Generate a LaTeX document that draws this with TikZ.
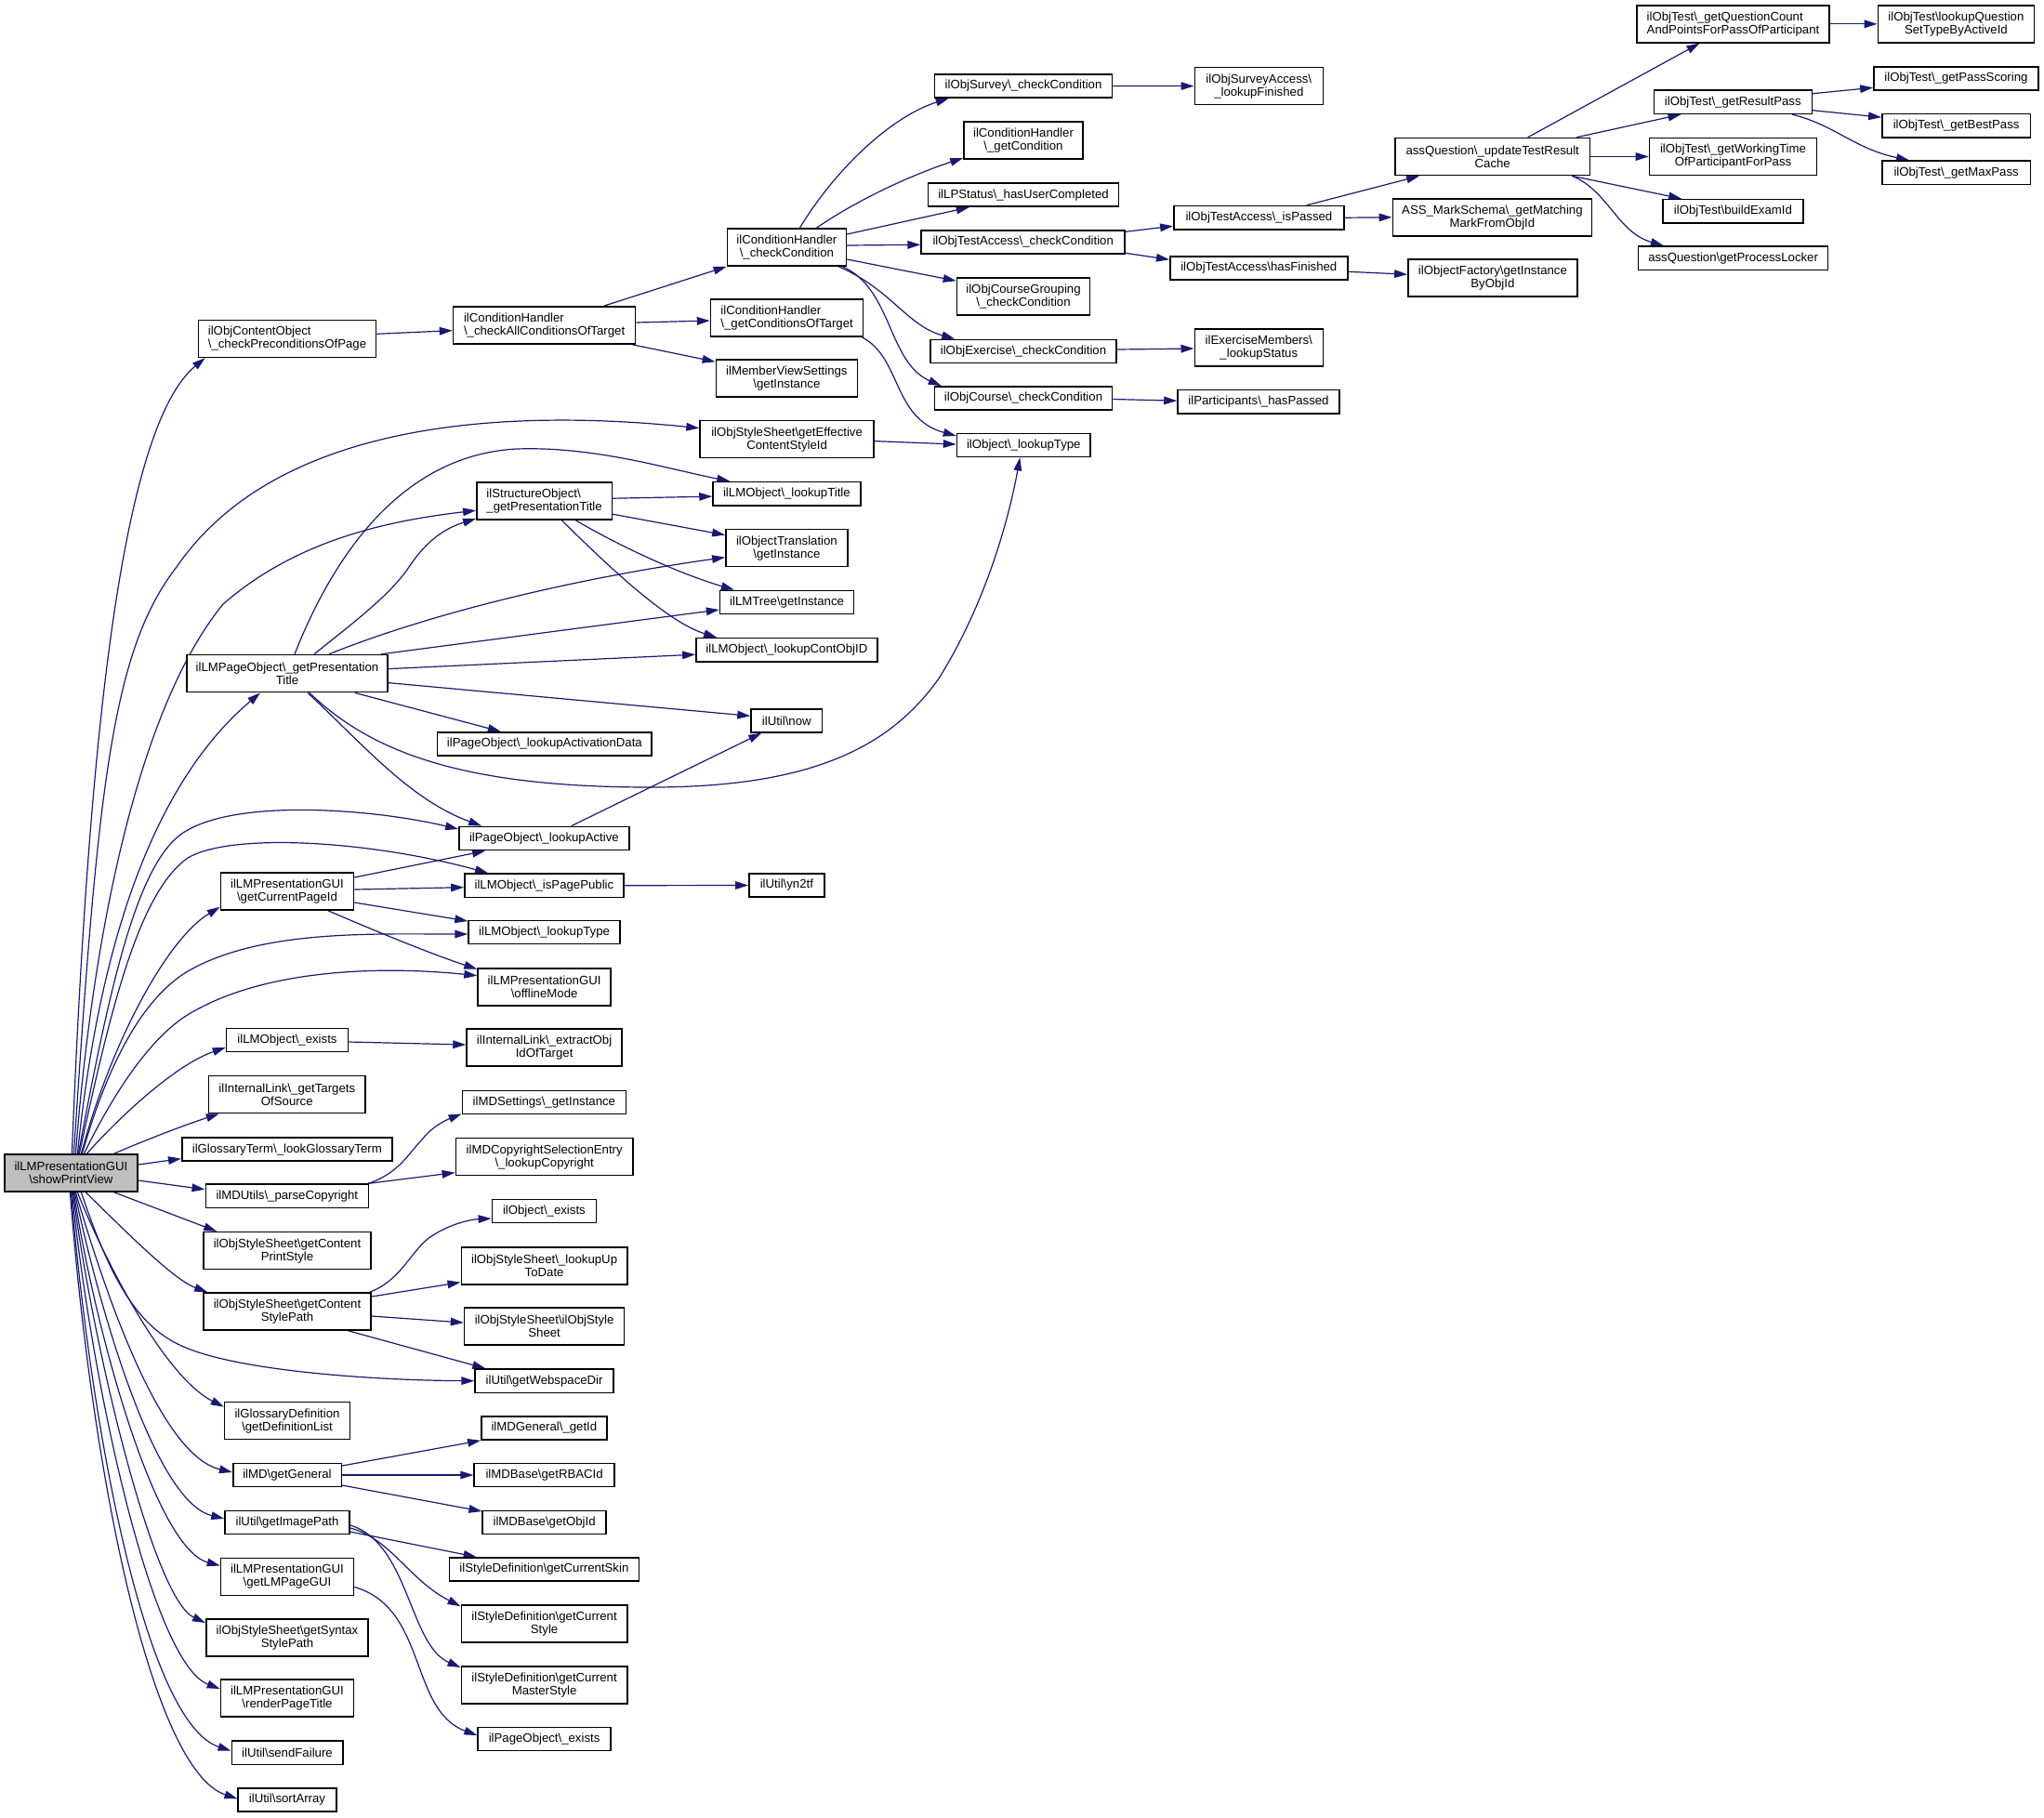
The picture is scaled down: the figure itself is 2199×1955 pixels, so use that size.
\documentclass[tikz,border=0pt]{standalone}
\usepackage{fontspec}
\setmainfont{Liberation Sans}
\usetikzlibrary{arrows.meta,calc,backgrounds}
\definecolor{myblue}{RGB}{25,25,112}
\definecolor{rootgray}{RGB}{191,191,191}
\newcommand{\BS}{\textbackslash}
\begin{document}
\begin{tikzpicture}[x=0.5pt,y=-0.5pt,
  every node/.style={font=\fontsize{6.6}{7}\selectfont},
  nb/.style={draw=black,line width=0.8pt,fill=white,inner sep=0pt,align=center,minimum width=#1},
  n1/.style={nb=#1,minimum height=12.6pt},
  n2/.style={nb=#1,minimum height=20pt},
  arr/.style={draw=myblue,line width=0.6pt,-{Triangle[length=7pt,width=4.3pt]}}]
\useasboundingbox (0,0) rectangle (2199,1955);

% column 0
\node[n2=71.5pt,fill=rootgray] (S) at (76.4,1262) {ilLMPresentationGUI\\\BS showPrintView};

% column 1
\node[n2=95.5pt,align=left] (cpp) at (309,364.3) {ilObjContentObject\\\BS\_checkPreconditionsOfPage};
\node[n2=108pt] (lpt) at (309,724.6) {ilLMPageObject\BS\_getPresentation\\Title};
\node[n2=71.5pt] (gcp) at (309,959) {ilLMPresentationGUI\\\BS getCurrentPageId};
\node[n1=65.5pt] (lex) at (309,1119) {ilLMObject\BS\_exists};
\node[n2=84.25pt] (gts) at (308.8,1177.5) {ilInternalLink\BS\_getTargets\\OfSource};
\node[n1=113pt] (lgt) at (308.8,1236.6) {ilGlossaryTerm\BS\_lookGlossaryTerm};
\node[n1=87.5pt] (pc) at (308.8,1286.7) {ilMDUtils\BS\_parseCopyright};
\node[n2=90pt] (cps) at (309,1345.6) {ilObjStyleSheet\BS getContent\\PrintStyle};
\node[n2=90pt] (csp) at (309,1411) {ilObjStyleSheet\BS getContent\\StylePath};
\node[n2=67.5pt] (gdl) at (309,1528.6) {ilGlossaryDefinition\\\BS getDefinitionList};
\node[n1=58.3pt] (gg) at (309,1587) {ilMD\BS getGeneral};
\node[n1=67pt] (gip) at (309,1638) {ilUtil\BS getImagePath};
\node[n2=71.5pt] (lmpg) at (309,1696.5) {ilLMPresentationGUI\\\BS getLMPageGUI};
\node[n2=87.2pt] (ssp) at (309,1762) {ilObjStyleSheet\BS getSyntax\\StylePath};
\node[n2=71.5pt] (rpt) at (309,1827) {ilLMPresentationGUI\\\BS renderPageTitle};
\node[n1=59.7pt] (sf) at (309,1885.7) {ilUtil\BS sendFailure};
\node[n1=52.8pt] (sa) at (309,1936.3) {ilUtil\BS sortArray};

% column 2
\node[n2=98pt,align=left] (cact) at (585.6,350) {ilConditionHandler\\\BS\_checkAllConditionsOfTarget};
\node[n2=72.75pt,align=left] (spt) at (585.6,539.2) {ilStructureObject\BS\\\_getPresentationTitle};
\node[n1=115.25pt] (lad) at (585.9,800.5) {ilPageObject\BS\_lookupActivationData};
\node[n1=91.5pt] (la) at (585.4,902) {ilPageObject\BS\_lookupActive};
\node[n1=85.5pt] (ipp) at (585.4,952.7) {ilLMObject\BS\_isPagePublic};
\node[n1=81.5pt] (llt) at (585.6,1003) {ilLMObject\BS\_lookupType};
\node[n2=71.5pt] (off) at (585.6,1061.7) {ilLMPresentationGUI\\\BS offlineMode};
\node[n2=83.5pt] (eoi) at (585.6,1127) {ilInternalLink\BS\_extractObj\\IdOfTarget};
\node[n1=88pt] (mds) at (585.4,1186) {ilMDSettings\BS\_getInstance};
\node[n2=95.3pt] (mdc) at (585.7,1244.6) {ilMDCopyrightSelectionEntry\\\BS\_lookupCopyright};
\node[n1=56pt] (oe) at (585.4,1303) {ilObject\BS\_exists};
\node[n2=89.3pt] (lud) at (585.6,1361.8) {ilObjStyleSheet\BS\_lookupUp\\ToDate};
\node[n2=86pt] (oss) at (585.6,1427) {ilObjStyleSheet\BS ilObjStyle\\Sheet};
\node[n1=74.5pt] (wsd) at (585.6,1485.7) {ilUtil\BS getWebspaceDir};
\node[n1=67.5pt] (mdg) at (585.4,1536.4) {ilMDGeneral\BS\_getId};
\node[n1=75.5pt] (rbac) at (585.6,1587) {ilMDBase\BS getRBACId};
\node[n1=66.35pt] (gobj) at (585.6,1638) {ilMDBase\BS getObjId};
\node[n1=102pt] (skin) at (585.4,1688.5) {ilStyleDefinition\BS getCurrentSkin};
\node[n2=89.3pt] (cstyle) at (585.6,1747) {ilStyleDefinition\BS getCurrent\\Style};
\node[n2=89.3pt] (cms) at (585.6,1812.8) {ilStyleDefinition\BS getCurrent\\MasterStyle};
\node[n1=71.5pt] (poe) at (585.6,1871) {ilPageObject\BS\_exists};

% column 3
\node[n2=64pt] (cc) at (846.4,266) {ilConditionHandler\\\BS\_checkCondition};
\node[n2=82pt,align=left] (gct) at (846.6,342) {ilConditionHandler\\\BS\_getConditionsOfTarget};
\node[n2=76pt] (mvs) at (846.4,407.2) {ilMemberViewSettings\\\BS getInstance};
\node[n2=93.5pt] (gecs) at (846.6,472.6) {ilObjStyleSheet\BS getEffective\\ContentStyleId};
\node[n1=79.35pt] (lmt) at (846.4,531.1) {ilLMObject\BS\_lookupTitle};
\node[n2=65.5pt] (otr) at (846.4,589.6) {ilObjectTranslation\\\BS getInstance};
\node[n1=72pt] (lmtree) at (846.6,648) {ilLMTree\BS getInstance};
\node[n1=97.5pt] (lco) at (846.4,699.2) {ilLMObject\BS\_lookupContObjID};
\node[n1=38.25pt] (now) at (846.3,775.3) {ilUtil\BS now};
\node[n1=40.5pt] (yn) at (846.4,952.5) {ilUtil\BS yn2tf};

% column 4
\node[n1=95.5pt] (osc) at (1101,92.4) {ilObjSurvey\BS\_checkCondition};
\node[n2=64pt] (gc) at (1101,151) {ilConditionHandler\\\BS\_getCondition};
\node[n1=102.5pt] (lps) at (1101,209.6) {ilLPStatus\BS\_hasUserCompleted};
\node[n1=109.5pt] (otc) at (1100.7,260.3) {ilObjTestAccess\BS\_checkCondition};
\node[n2=71.5pt] (ocg) at (1101,319.2) {ilObjCourseGrouping\\\BS\_checkCondition};
\node[n1=100pt] (oex) at (1101,378) {ilObjExercise\BS\_checkCondition};
\node[n1=95.5pt] (oco) at (1101,428.5) {ilObjCourse\BS\_checkCondition};
\node[n1=71.75pt] (olt) at (1101.3,479) {ilObject\BS\_lookupType};

% column 5
\node[n2=69pt] (osa) at (1354.3,92.6) {ilObjSurveyAccess\BS\\\_lookupFinished};
\node[n1=91.5pt] (ip) at (1354.4,234.2) {ilObjTestAccess\BS\_isPassed};
\node[n1=95.5pt] (hf) at (1354.3,288.3) {ilObjTestAccess\BS hasFinished};
\node[n2=69pt] (exm) at (1354.3,374) {ilExerciseMembers\BS\\\_lookupStatus};
\node[n1=87pt] (par) at (1354,432.2) {ilParticipants\BS\_hasPassed};

% column 6
\node[n2=104.75pt] (utr) at (1605.7,168.5) {assQuestion\BS\_updateTestResult\\Cache};
\node[n2=107pt] (msm) at (1605.4,233.8) {ASS\_MarkSchema\BS\_getMatching\\MarkFromObjId};
\node[n2=91pt] (ofg) at (1605.9,299.2) {ilObjectFactory\BS getInstance\\ByObjId};

% column 7
\node[n2=103.75pt,align=left] (qc) at (1864.5,25.8) {ilObjTest\BS\_getQuestionCount\\AndPointsForPassOfParticipant};
\node[n1=85pt] (grp) at (1864.3,109.7) {ilObjTest\BS\_getResultPass};
\node[n2=90pt] (gwt) at (1864.5,168.5) {ilObjTest\BS\_getWorkingTime\\OfParticipantForPass};
\node[n1=75.5pt] (bei) at (1864.4,227.2) {ilObjTest\BS buildExamId};
\node[n1=102pt] (gpl) at (1864.6,277.7) {assQuestion\BS getProcessLocker};

% column 8
\node[n2=84pt] (lqs) at (2104.4,25.8) {ilObjTest\BS lookupQuestion\\SetTypeByActiveId};
\node[n1=88.5pt] (gps) at (2104.4,84.3) {ilObjTest\BS\_getPassScoring};
\node[n1=79.75pt] (gbp) at (2104.6,135.2) {ilObjTest\BS\_getBestPass};
\node[n1=79.75pt] (gmp) at (2104.6,185.8) {ilObjTest\BS\_getMaxPass};

\begin{pgfonlayer}{background}
% edges from the root
\draw[arr] ($(S.north)+(1,0)$) .. controls (95,800) and (130,460) .. ($(cpp.south west)+(8,0)$);
\draw[arr] ($(S.north)+(3,0)$) .. controls (105,850) and (120,700) .. (190,610) .. controls (300,450) and (550,440) .. ($(gecs.west)+(0,-12)$);
\draw[arr] ($(S.north)+(5,0)$) .. controls (100,1000) and (150,760) .. (240,650) .. controls (320,580) and (420,560) .. ($(spt.west)+(0,10)$);
\draw[arr] ($(S.north)+(7,0)$) .. controls (110,980) and (180,830) .. ($(lpt.south)+(-29,0)$);
\draw[arr] ($(S.north)+(8,0)$) .. controls (120,1050) and (150,920) .. (202,893) .. controls (260,860) and (400,870) .. ($(la.west)+(0,-10)$);
\draw[arr] ($(S.north)+(9,0)$) .. controls (120,1080) and (150,960) .. (202,923) .. controls (250,895) and (400,905) .. ($(ipp.north west)+(26,0)$);
\draw[arr] ($(S.north)+(11,0)$) .. controls (120,1120) and (180,1010) .. ($(gcp.south west)+(0,-4)$);
\draw[arr] ($(S.north)+(12,0)$) .. controls (120,1130) and (160,1070) .. (202,1045) .. controls (280,1000) and (400,1005) .. ($(llt.west)+(0,2)$);
\draw[arr] ($(S.north)+(14,0)$) .. controls (130,1160) and (170,1110) .. (205,1090) .. controls (290,1040) and (420,1040) .. ($(off.west)+(0,-12)$);
\draw[arr] ($(S.north)+(17,0)$) .. controls (130,1200) and (190,1145) .. ($(lex.west)+(0,8)$);
\draw[arr] ($(S.north east)+(-26,0)$) .. controls (160,1225) and (200,1210) .. ($(gts.south west)+(12,0)$);
\draw[arr] ($(S.east)+(0,-9)$) -- ($(lgt.west)+(0,10)$);
\draw[arr] ($(S.east)+(0,8)$) -- ($(pc.west)+(0,-7)$);
\draw[arr] ($(S.south east)+(-26,0)$) -- ($(cps.north west)+(15,0)$);
\draw[arr] ($(S.south)+(16,0)$) .. controls (150,1340) and (190,1378) .. ($(csp.north west)+(5,0)$);
\draw[arr] ($(S.south)+(11,0)$) .. controls (120,1380) and (150,1430) .. (200,1450) .. controls (260,1475) and (400,1485) .. (wsd.west);
\draw[arr] ($(S.south)+(7,0)$) .. controls (110,1350) and (175,1480) .. ($(gdl.west)+(0,-15)$);
\draw[arr] ($(S.south)+(5,0)$) .. controls (110,1380) and (170,1565) .. ($(gg.west)+(0,-3)$);
\draw[arr] ($(S.south)+(4,0)$) .. controls (105,1400) and (165,1615) .. ($(gip.west)+(0,-4)$);
\draw[arr] ($(S.south)+(3,0)$) .. controls (100,1420) and (165,1665) .. ($(lmpg.west)+(0,-12)$);
\draw[arr] ($(S.south)+(2,0)$) .. controls (100,1450) and (165,1720) .. ($(ssp.west)+(0,-16)$);
\draw[arr] ($(S.south)+(1,0)$) .. controls (100,1500) and (165,1790) .. ($(rpt.west)+(0,-10)$);
\draw[arr] ($(S.south)+(0,0)$) .. controls (100,1560) and (160,1855) .. ($(sf.west)+(0,-2)$);
\draw[arr] ($(S.south)+(-1,0)$) .. controls (100,1600) and (165,1905) .. ($(sa.west)+(0,-1)$);

% condition branch
\draw[arr] ($(cpp.east)+(0,-5)$) -- ($(cact.west)+(0,5.6)$);
\draw[arr] ($(cact.north)+(64,0)$) -- (cc.south west);
\draw[arr] ($(cact.east)+(0,-3)$) -- ($(gct.west)+(0,3)$);
\draw[arr] ($(cact.south east)+(-4,0)$) -- ($(mvs.west)+(0,-18)$);
\draw[arr] ($(cc.north)+(14,0)$) .. controls (900,180) and (960,125) .. ($(osc.south west)+(16,0)$);
\draw[arr] ($(cc.north)+(32,0)$) .. controls (930,210) and (990,185) .. ($(gc.west)+(0,19)$);
\draw[arr] ($(cc.east)+(0,-14)$) -- ($(lps.south west)+(45,0)$);
\draw[arr] ($(cc.east)+(0,-2)$) -- ($(otc.west)+(0,3)$);
\draw[arr] ($(cc.east)+(0,13)$) -- ($(ocg.west)+(0,-17)$);
\draw[arr] ($(cc.south east)+(-9,0)$) .. controls (960,312) and (975,350) .. ($(oex.north west)+(27,0)$);
\draw[arr] ($(cc.south east)+(-5,0)$) .. controls (960,310) and (955,390) .. ($(oco.north west)+(8,0)$);
\draw[arr] ($(gct.south east)+(-2,0)$) .. controls (970,385) and (960,450) .. ($(olt.west)+(0,-10)$);
\draw[arr] (osc.east) -- (osa.west);
\draw[arr] ($(otc.east)+(0,-11)$) -- ($(ip.west)+(0,9)$);
\draw[arr] ($(otc.east)+(0,12)$) -- ($(hf.west)+(0,-9)$);
\draw[arr] ($(ip.north east)+(-41,0)$) -- ($(utr.south west)+(27,0)$);
\draw[arr] (ip.east) -- (msm.west);
\draw[arr] ($(hf.east)+(0,4)$) -- ($(ofg.west)+(0,-4)$);
\draw[arr] ($(utr.north)+(38,0)$) -- ($(qc.south)+(-36,0)$);
\draw[arr] ($(utr.north east)+(-15,0)$) -- ($(grp.south west)+(30,0)$);
\draw[arr] (utr.east) -- (gwt.west);
\draw[arr] ($(utr.south east)+(-20,0)$) -- ($(bei.north west)+(21,0)$);
\draw[arr] ($(utr.south east)+(-20,0)$) .. controls (1730,205) and (1740,250) .. ($(gpl.north west)+(28,0)$);
\draw[arr] (qc.east) -- (lqs.west);
\draw[arr] ($(grp.east)+(0,-9)$) -- ($(gps.west)+(0,10)$);
\draw[arr] ($(grp.east)+(0,9)$) -- ($(gbp.west)+(0,-9)$);
\draw[arr] ($(grp.south east)+(-22,0)$) .. controls (1975,135) and (1995,160) .. ($(gmp.north west)+(30,0)$);
\draw[arr] ($(oex.east)+(0,-2)$) -- ($(exm.west)+(0,1)$);
\draw[arr] ($(oco.east)+(0,1)$) -- ($(par.west)+(0,-1)$);
\draw[arr] ($(gecs.east)+(0,2)$) -- ($(olt.west)+(0,-1)$);

% structure object
\draw[arr] ($(spt.east)+(0,-3)$) -- ($(lmt.west)+(0,3)$);
\draw[arr] ($(spt.east)+(0,14)$) -- ($(otr.west)+(0,-14)$);
\draw[arr] ($(spt.south)+(34,0)$) .. controls (680,595) and (740,620) .. ($(lmtree.north west)+(16,0)$);
\draw[arr] ($(spt.south)+(19,0)$) .. controls (660,615) and (720,670) .. ($(lco.north west)+(23,0)$);

% LM page object
\draw[arr] ($(lpt.north)+(8,0)$) .. controls (350,620) and (420,490) .. (556,483) .. controls (640,480) and (720,505) .. ($(lmt.north west)+(19,0)$);
\draw[arr] ($(lpt.north)+(29,0)$) .. controls (380,670) and (420,640) .. (440,610) .. controls (460,580) and (480,568) .. ($(spt.south west)+(0,-2)$);
\draw[arr] ($(lpt.north)+(45,0)$) .. controls (450,665) and (600,625) .. ($(otr.west)+(0,10)$);
\draw[arr] ($(lpt.north east)+(-8,0)$) -- ($(lmtree.west)+(0,8)$);
\draw[arr] ($(lpt.east)+(0,-5)$) -- ($(lco.west)+(0,5)$);
\draw[arr] ($(lpt.east)+(0,10)$) -- ($(now.west)+(0,-5)$);
\draw[arr] ($(lpt.south east)+(-36,0)$) -- ($(lad.north west)+(69,0)$);
\draw[arr] ($(lpt.south)+(22,0)$) .. controls (390,800) and (440,860) .. ($(la.north west)+(25,0)$);
\draw[arr] ($(lpt.south)+(24,0)$) .. controls (400,810) and (500,847) .. (700,847) .. controls (880,847) and (960,800) .. (1010,730) .. controls (1060,650) and (1085,560) .. ($(olt.south)+(-4,0)$);
\draw[arr] ($(la.north east)+(-63,0)$) -- ($(now.south west)+(12,0)$);

% current page id
\draw[arr] ($(gcp.east)+(0,-15)$) -- ($(la.south west)+(29,0)$);
\draw[arr] ($(gcp.east)+(0,-2)$) -- ($(ipp.west)+(0,2)$);
\draw[arr] ($(gcp.east)+(0,12)$) -- ($(llt.west)+(0,-12)$);
\draw[arr] ($(gcp.south)+(44,0)$) .. controls (400,1000) and (460,1025) .. ($(off.west)+(0,-19)$);
\draw[arr] (ipp.east) -- (yn.west);
\draw[arr] ($(lex.east)+(0,2)$) -- ($(eoi.west)+(0,-3)$);

% lower part
\draw[arr] ($(pc.north east)+(-1,0)$) .. controls (430,1262) and (440,1240) .. (455,1225) .. controls (465,1212) and (480,1205) .. ($(mds.south west)+(0,-1)$);
\draw[arr] ($(pc.north east)+(-1,0)$) -- ($(mdc.west)+(0,17)$);
\draw[arr] ($(csp.north east)+(-2,0)$) .. controls (430,1378) and (440,1350) .. (460,1333) .. controls (480,1318) and (505,1312) .. ($(oe.west)+(0,8)$);
\draw[arr] ($(csp.east)+(0,-16)$) -- ($(lud.south west)+(0,-3)$);
\draw[arr] ($(csp.east)+(0,5)$) -- ($(oss.west)+(0,-4)$);
\draw[arr] ($(csp.south east)+(-25,0)$) -- ($(wsd.north west)+(12,0)$);
\draw[arr] ($(gg.east)+(0,-10)$) -- (mdg.south west);
\draw[arr] (gg.east) -- (rbac.west);
\draw[arr] ($(gg.east)+(0,11)$) -- ($(gobj.west)+(0,-12)$);
\draw[arr] ($(gip.east)+(0,10)$) -- ($(skin.north west)+(30,0)$);
\draw[arr] ($(gip.east)+(0,6)$) .. controls (420,1655) and (440,1700) .. ($(cstyle.north west)+(0,2)$);
\draw[arr] ($(gip.east)+(0,3)$) .. controls (440,1660) and (440,1770) .. ($(cms.north west)+(0,2)$);
\draw[arr] ($(lmpg.east)+(0,11)$) .. controls (460,1730) and (440,1840) .. ($(poe.west)+(0,-4)$);
\end{pgfonlayer}
\end{tikzpicture}
\end{document}
